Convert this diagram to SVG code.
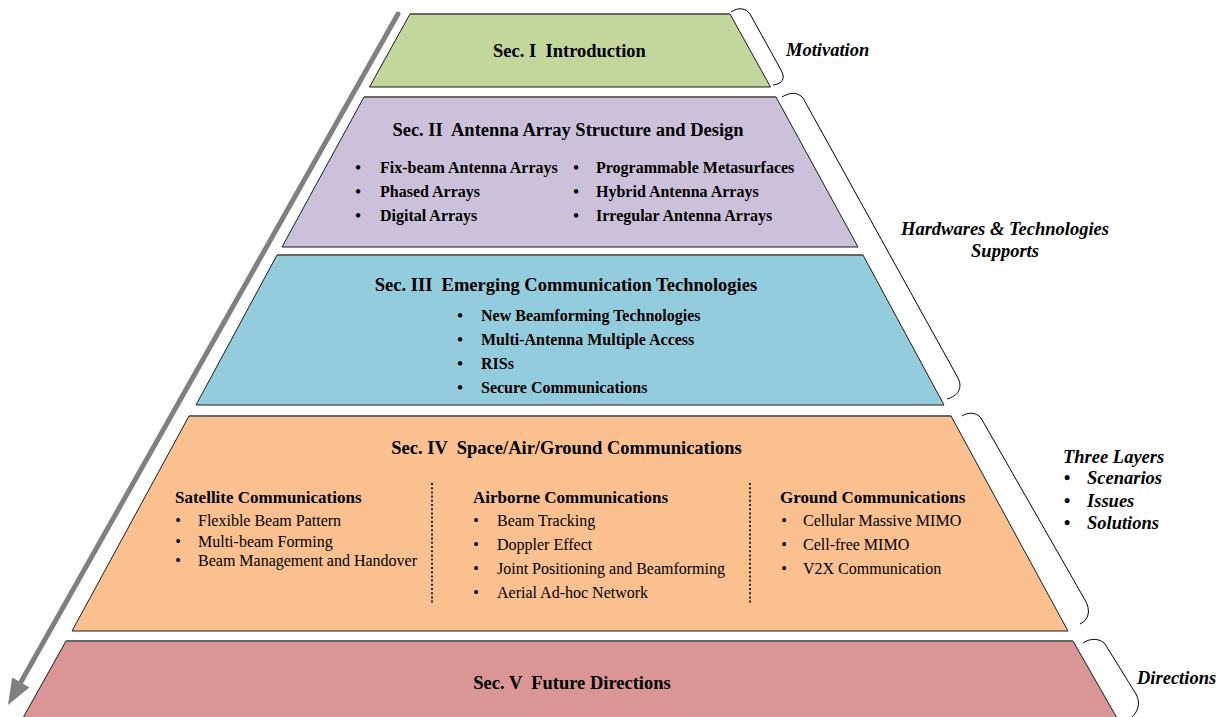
<svg xmlns="http://www.w3.org/2000/svg" width="1220" height="717" viewBox="0 0 1220 717">
<defs>
<style>
text{font-family:"Liberation Serif","Times New Roman",serif;fill:#000;white-space:pre}
.t{font-weight:bold;font-size:18.5px;text-anchor:middle}
.b{font-weight:bold;font-size:16px}
.h{font-weight:bold;font-size:17px}
.r{font-size:16px}
.s{font-weight:bold;font-style:italic;font-size:18.5px}
.dot{text-anchor:middle}
.layer{stroke:#1a1a1a;stroke-width:1}
.top{stroke:#666;stroke-width:2}
.brace{fill:none;stroke:#000;stroke-width:1}
.div{stroke:#000;stroke-width:1.6;stroke-dasharray:2 2.2}
</style>
<marker id="ah" markerUnits="userSpaceOnUse" markerWidth="26" markerHeight="20" refX="8" refY="10" orient="auto" viewBox="0 0 26 20">
<path d="M0,0 L26,10 L0,20 Z" fill="#808080"/>
</marker>
</defs>
<rect width="1220" height="717" fill="#fff"/>

<g id="connectors">
<line x1="398" y1="14" x2="16.85" y2="689.3" stroke="#808080" stroke-width="5" stroke-linecap="round" marker-end="url(#ah)"/>
<path class="brace" d="M731,12 C738,7 746,8 750,14 L781,70 C786,79 782,84 773,85"/>
<path class="brace" d="M782,97 C790,92 798,92 803,98 L958,378 C963,388 958,396 947,399"/>
<path class="brace" d="M962,416 C968,412 976,412 981,418 L1085,600 C1091,610 1089,620 1080,624"/>
<path class="brace" d="M1083,643 C1090,638 1100,638 1105,644 L1136,694 C1141,703 1138,712 1131,718"/>
</g>

<g id="sec1">
<polygon class="layer" points="410,14 730,14 770.5,87 369.5,87" fill="#C3D69B"/>
<line class="top" x1="410" y1="14" x2="730" y2="14"/>
<text class="t" x="569.5" y="57">Sec. I  Introduction</text>
</g>

<g id="sec2">
<polygon class="layer" points="364,97 776,97 858,247 282,247" fill="#CCC1DA"/>
<line class="top" x1="364" y1="97" x2="776" y2="97"/>
<text class="t" x="568" y="136">Sec. II  Antenna Array Structure and Design</text>
<text class="b dot" x="358" y="173">•</text><text class="b" x="380" y="173">Fix-beam Antenna Arrays</text>
<text class="b dot" x="358" y="197">•</text><text class="b" x="380" y="197">Phased Arrays</text>
<text class="b dot" x="358" y="221">•</text><text class="b" x="380" y="221">Digital Arrays</text>
<text class="b dot" x="576" y="173">•</text><text class="b" x="596" y="173">Programmable Metasurfaces</text>
<text class="b dot" x="576" y="197">•</text><text class="b" x="596" y="197">Hybrid Antenna Arrays</text>
<text class="b dot" x="576" y="221">•</text><text class="b" x="596" y="221">Irregular Antenna Arrays</text>
</g>

<g id="sec3">
<polygon class="layer" points="277,255 863,255 944,405 196,405" fill="#93CDDD"/>
<line class="top" x1="277" y1="255" x2="863" y2="255"/>
<text class="t" x="566" y="291">Sec. III  Emerging Communication Technologies</text>
<text class="b dot" x="460" y="321">•</text><text class="b" x="481" y="321">New Beamforming Technologies</text>
<text class="b dot" x="460" y="345">•</text><text class="b" x="481" y="345">Multi-Antenna Multiple Access</text>
<text class="b dot" x="460" y="369">•</text><text class="b" x="481" y="369">RISs</text>
<text class="b dot" x="460" y="393">•</text><text class="b" x="481" y="393">Secure Communications</text>
</g>

<g id="sec4">
<polygon class="layer" points="189,416 951,416 1068,631 72,631" fill="#FAC090"/>
<line class="top" x1="189" y1="416" x2="951" y2="416"/>
<text class="t" x="566.5" y="454">Sec. IV  Space/Air/Ground Communications</text>
<line class="div" x1="432" y1="483" x2="432" y2="604"/>
<line class="div" x1="750" y1="483" x2="750" y2="604"/>
<text class="h" x="175" y="503">Satellite Communications</text>
<text class="r dot" x="178" y="526">•</text><text class="r" x="198" y="526">Flexible Beam Pattern</text>
<text class="r dot" x="178" y="547">•</text><text class="r" x="198" y="547">Multi-beam Forming</text>
<text class="r dot" x="178" y="566">•</text><text class="r" x="198" y="566">Beam Management and Handover</text>
<text class="h" x="473" y="503">Airborne Communications</text>
<text class="r dot" x="476" y="526">•</text><text class="r" x="497" y="526">Beam Tracking</text>
<text class="r dot" x="476" y="550">•</text><text class="r" x="497" y="550">Doppler Effect</text>
<text class="r dot" x="476" y="574">•</text><text class="r" x="497" y="574">Joint Positioning and Beamforming</text>
<text class="r dot" x="476" y="598">•</text><text class="r" x="497" y="598">Aerial Ad-hoc Network</text>
<text class="h" x="780" y="503">Ground Communications</text>
<text class="r dot" x="784" y="526">•</text><text class="r" x="803" y="526">Cellular Massive MIMO</text>
<text class="r dot" x="784" y="550">•</text><text class="r" x="803" y="550">Cell-free MIMO</text>
<text class="r dot" x="784" y="574">•</text><text class="r" x="803" y="574">V2X Communication</text>
</g>

<g id="sec5">
<polygon class="layer" points="66,641 1073,641 1121,725 19,725" fill="#D99694"/>
<line class="top" x1="66" y1="641" x2="1073" y2="641"/>
<text class="t" x="572" y="689">Sec. V  Future Directions</text>
</g>

<g id="labels">
<text class="s" x="786" y="56">Motivation</text>
<text class="s" x="1005" y="235" text-anchor="middle">Hardwares &amp; Technologies</text>
<text class="s" x="1005" y="257" text-anchor="middle">Supports</text>
<text class="s" x="1063" y="463">Three Layers</text>
<text class="s dot" x="1067" y="484">•</text><text class="s" x="1087" y="484">Scenarios</text>
<text class="s dot" x="1067" y="507">•</text><text class="s" x="1087" y="507">Issues</text>
<text class="s dot" x="1067" y="529">•</text><text class="s" x="1087" y="529">Solutions</text>
<text class="s" x="1137" y="684">Directions</text>
</g>
</svg>
